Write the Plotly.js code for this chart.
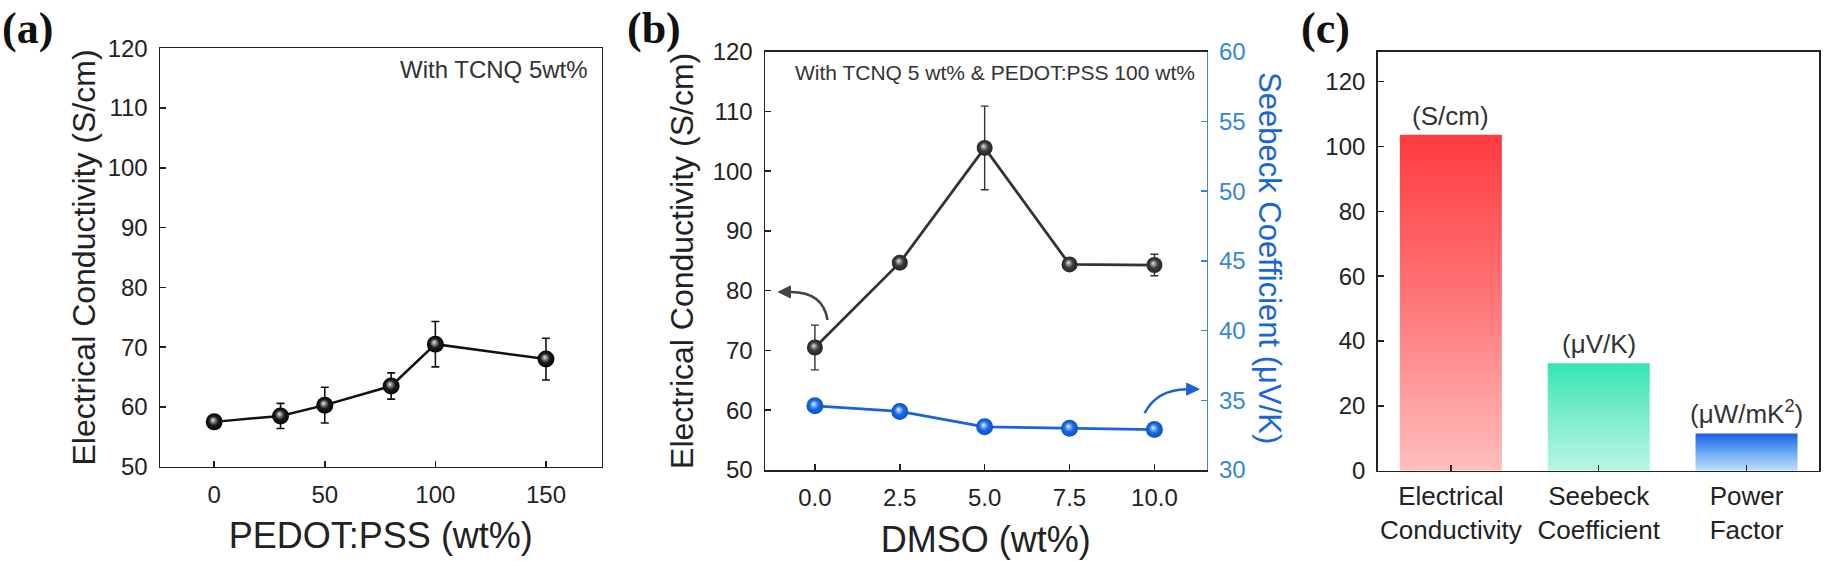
<!DOCTYPE html>
<html>
<head>
<meta charset="utf-8">
<script src="https://cdn.plot.ly/plotly-3.0.1.min.js"></script>
<style>
  html, body { margin: 0; padding: 0; background: #fff; }
  #chart { width: 1830px; height: 561px; }
</style>
</head>
<body>
<div id="chart"></div>
<script>
// ---------- data ----------
const pedotX = [0, 30, 50, 80, 100, 150];
const pedotSigma = [57.5, 58.5, 60.3, 63.5, 70.5, 68.0];
const pedotErr = [0.8, 2.1, 3.0, 2.2, 3.8, 3.5];

const dmsoX = [0, 2.5, 5, 7.5, 10];
const dmsoSigma = [70.5, 84.7, 103.9, 84.4, 84.3];
const dmsoSigmaErr = [3.75, 0.6, 7.0, 0.6, 1.8];
const dmsoSeebeck = [34.6, 34.2, 33.1, 33.0, 32.9];

const barCategories = ['Electrical<br>Conductivity', 'Seebeck<br>Coefficient', 'Power<br>Factor'];
const barValues = [103.6, 33.1, 11.5];
const barUnits = ['(S/cm)', '(\u03bcV/K)', '(\u03bcW/mK<sup>2</sup>)'];

const panelLabels = ['(a)', '(b)', '(c)'];
const noteA = 'With TCNQ 5wt%';
const noteB = 'With TCNQ 5 wt% &amp; PEDOT:PSS 100 wt%';

// ---------- styling ----------
const W = 1830, H = 561;
const FONT = 'Liberation Sans, Arial, sans-serif';
const INK = '#222';
const BLUE_AX = '#3586dc';
const BLUE_TITLE = '#1766d8';
const px = v => v / W;
const py = v => 1 - v / H;

const axBase = {
  showline: true, linecolor: INK, linewidth: 1.5,
  ticks: 'inside', ticklen: 6, tickwidth: 1.5, tickcolor: INK,
  showgrid: false, zeroline: false,
  tickfont: {family: FONT, size: 24, color: INK},
  ticklabelstandoff: 6
};

const traces = [
  {
    name: 'a', x: pedotX, y: pedotSigma, xaxis: 'x', yaxis: 'y',
    type: 'scatter', mode: 'lines+markers',
    line: {color: '#111', width: 2.5},
    marker: {size: 17, color: '#050505', gradient: {type: 'radial', color: '#888'}},
    error_y: {type: 'data', array: pedotErr, visible: true, color: '#111', thickness: 1.6, width: 4},
    cliponaxis: false
  },
  {
    name: 'bSigma', x: dmsoX, y: dmsoSigma, xaxis: 'x2', yaxis: 'y2',
    type: 'scatter', mode: 'lines+markers',
    line: {color: '#333', width: 2.8},
    marker: {size: 16, color: '#2a2a2a', gradient: {type: 'radial', color: '#999'}},
    error_y: {type: 'data', array: dmsoSigmaErr, visible: true, color: '#333', thickness: 1.4, width: 4},
    cliponaxis: false
  },
  {
    name: 'bSeebeck', x: dmsoX, y: dmsoSeebeck, xaxis: 'x2', yaxis: 'y3',
    type: 'scatter', mode: 'lines+markers',
    line: {color: '#1a62d8', width: 2.8},
    marker: {size: 17, color: '#0f5ad6', gradient: {type: 'radial', color: '#a8ccff'}},
    cliponaxis: false
  },
  {
    name: 'c', x: barCategories, y: barValues, xaxis: 'x3', yaxis: 'y4',
    type: 'bar', width: 0.69,
    marker: {color: ['#ff7a7b', '#7ceccb', '#6aa6f2'], line: {width: 0}}
  }
];

const annotations = [];
// panel labels
[[27, 28], [654, 28], [1325, 28]].forEach((p, i) => {
  annotations.push({
    text: panelLabels[i], xref: 'paper', yref: 'paper', x: px(p[0]), y: py(p[1]),
    xanchor: 'center', yanchor: 'middle', showarrow: false,
    font: {family: 'Liberation Serif, Times New Roman, serif', size: 44, color: '#111', weight: 'bold'}
  });
});
// notes
annotations.push({
  text: noteA, xref: 'paper', yref: 'paper', x: px(590), y: py(70),
  xanchor: 'right', yanchor: 'middle', showarrow: false,
  font: {family: FONT, size: 24, color: '#333'}
});
annotations.push({
  text: noteB, xref: 'paper', yref: 'paper', x: px(1197), y: py(72),
  xanchor: 'right', yanchor: 'middle', showarrow: false,
  font: {family: FONT, size: 21, color: '#333'}
});
// right axis title of (b), reading top to bottom
annotations.push({
  text: 'Seebeck Coefficient (\u03bcV/K)', xref: 'paper', yref: 'paper', x: px(1270), y: py(258),
  xanchor: 'center', yanchor: 'middle', showarrow: false, textangle: 90,
  font: {family: FONT, size: 31, color: BLUE_TITLE}
});
// bar unit labels
barUnits.forEach((u, i) => {
  annotations.push({
    text: u, xref: 'x3', yref: 'y4', x: barCategories[i], y: barValues[i],
    xanchor: 'center', yanchor: 'bottom', yshift: 2, showarrow: false,
    font: {family: FONT, size: 26, color: '#333'}
  });
});

// curved pointer arrows in (b): curve + filled head
const blackArrow = {start: [0.37, 75.1], ctrl: [0.25, 79.8], end: [-0.72, 79.8], tip: [-1.08, 79.8], half: 1.0};
const blueArrow = {start: [9.71, 34.07], ctrl: [10.05, 35.75], end: [10.95, 35.8], tip: [11.32, 35.8], half: 0.43};
function headPath(a) {
  return `M ${a.tip[0]},${a.tip[1]} L ${a.end[0]},${a.end[1] + a.half} L ${a.end[0]},${a.end[1] - a.half} Z`;
}
const shapes = [
  {type: 'path', xref: 'x2', yref: 'y2', line: {color: '#444', width: 2.5},
   path: `M ${blackArrow.start[0]},${blackArrow.start[1]} Q ${blackArrow.ctrl[0]},${blackArrow.ctrl[1]} ${blackArrow.end[0]},${blackArrow.end[1]}`},
  {type: 'path', xref: 'x2', yref: 'y2', line: {color: '#444', width: 1}, fillcolor: '#444', path: headPath(blackArrow)},
  {type: 'path', xref: 'x2', yref: 'y3', line: {color: '#1a62d8', width: 2.5},
   path: `M ${blueArrow.start[0]},${blueArrow.start[1]} Q ${blueArrow.ctrl[0]},${blueArrow.ctrl[1]} ${blueArrow.end[0]},${blueArrow.end[1]}`},
  {type: 'path', xref: 'x2', yref: 'y3', line: {color: '#1a62d8', width: 1}, fillcolor: '#1a62d8', path: headPath(blueArrow)}
];

const layout = {
  width: W, height: H,
  margin: {l: 0, r: 0, t: 0, b: 0},
  paper_bgcolor: '#fff', plot_bgcolor: 'rgba(0,0,0,0)',
  showlegend: false,
  font: {family: FONT, color: INK},
  xaxis: Object.assign({}, axBase, {
    domain: [px(160), px(601.7)], range: [-24.5, 175.2], anchor: 'y', mirror: true,
    tickvals: [0, 50, 100, 150],
    title: {text: 'PEDOT:PSS (wt%)', font: {family: FONT, size: 36, color: INK}, standoff: 16}
  }),
  yaxis: Object.assign({}, axBase, {
    domain: [py(466.7), py(48.3)], range: [50, 120], anchor: 'x', mirror: true, dtick: 10,
    title: {text: 'Electrical Conductivity (S/cm)', font: {family: FONT, size: 32, color: INK}, standoff: 2}
  }),
  xaxis2: Object.assign({}, axBase, {
    domain: [px(765), px(1206.7)], range: [-1.47, 11.54], anchor: 'y2', mirror: true,
    tickvals: dmsoX, tickformat: '.1f',
    title: {text: 'DMSO (wt%)', font: {family: FONT, size: 36, color: INK}, standoff: 16}
  }),
  yaxis2: Object.assign({}, axBase, {
    domain: [py(470), py(51.7)], range: [50, 120], anchor: 'x2', dtick: 10,
    title: {text: 'Electrical Conductivity (S/cm)', font: {family: FONT, size: 32, color: INK}, standoff: 9}
  }),
  yaxis3: Object.assign({}, axBase, {
    overlaying: 'y2', side: 'right', anchor: 'x2', range: [30, 60], dtick: 5,
    linecolor: BLUE_AX, tickcolor: BLUE_AX, tickfont: {family: FONT, size: 24, color: BLUE_AX}
  }),
  xaxis3: Object.assign({}, axBase, {
    domain: [px(1377.7), px(1819)], range: [-0.495, 2.49], anchor: 'y4', mirror: true,
    type: 'category', tickfont: {family: FONT, size: 26, color: INK}, ticklabelstandoff: 2
  }),
  yaxis4: Object.assign({}, axBase, {
    domain: [py(470.7), py(51.7)], range: [0, 129.2], anchor: 'x3', mirror: true, dtick: 20
  }),
  annotations: annotations,
  shapes: shapes
};

function finish(gd) {
  const svg = gd.querySelector('.main-svg');
  const NS = 'http://www.w3.org/2000/svg';
  let defs = svg.querySelector('defs');
  if (!defs) { defs = document.createElementNS(NS, 'defs'); svg.insertBefore(defs, svg.firstChild); }
  function addStops(g, stops) {
    stops.forEach(s => {
      const st = document.createElementNS(NS, 'stop');
      st.setAttribute('offset', s[0]); st.setAttribute('stop-color', s[1]);
      g.appendChild(st);
    });
    defs.appendChild(g);
  }
  function lin(id, stops) {
    const g = document.createElementNS(NS, 'linearGradient');
    g.setAttribute('id', id);
    g.setAttribute('x1', '0'); g.setAttribute('y1', '0'); g.setAttribute('x2', '0'); g.setAttribute('y2', '1');
    addStops(g, stops);
  }
  function rad(id, stops) {
    const g = document.createElementNS(NS, 'radialGradient');
    g.setAttribute('id', id);
    g.setAttribute('cx', '0.5'); g.setAttribute('cy', '0.5'); g.setAttribute('r', '0.55');
    g.setAttribute('fx', '0.42'); g.setAttribute('fy', '0.38');
    addStops(g, stops);
  }
  lin('barRed', [[0, '#ff3b3f'], [0.45, '#ff7173'], [1, '#ffbdbd']]);
  lin('barGreen', [[0, '#34e5b1'], [0.5, '#7fecce'], [1, '#b8f5e5']]);
  lin('barBlue', [[0, '#1a5fe6'], [0.5, '#6aa8f4'], [1, '#c0e0ff']]);
  rad('sphA', [[0, '#f0f0f0'], [0.18, '#9a9a9a'], [0.5, '#1c1c1c'], [1, '#000']]);
  rad('sphB', [[0, '#eeeeee'], [0.18, '#a0a0a0'], [0.5, '#3a3a3a'], [1, '#222']]);
  rad('sphBlue', [[0, '#f2f8ff'], [0.18, '#8bbcff'], [0.5, '#1a66e0'], [1, '#0a4fc4']]);

  const barIds = ['barRed', 'barGreen', 'barBlue'];
  gd.querySelectorAll('.barlayer .trace .point path').forEach((p, i) => {
    p.style.fill = 'url(#' + barIds[i % 3] + ')';
  });
  const sphereFor = {a: 'sphA', bSigma: 'sphB', bSeebeck: 'sphBlue'};
  gd.querySelectorAll('.scatterlayer .trace').forEach(tr => {
    const cd = tr.__data__;
    if (!cd || !cd[0] || !cd[0].trace) return;
    const id = sphereFor[cd[0].trace.name];
    if (!id) return;
    tr.querySelectorAll('.points path').forEach(p => { p.style.fill = 'url(#' + id + ')'; });
  });
  // drop empty placeholder text nodes that Plotly leaves behind
  gd.querySelectorAll('text').forEach(t => { if (!t.textContent.trim()) t.remove(); });
}

Plotly.newPlot('chart', traces, layout, {staticPlot: true, displayModeBar: false}).then(finish);
</script>
</body>
</html>
